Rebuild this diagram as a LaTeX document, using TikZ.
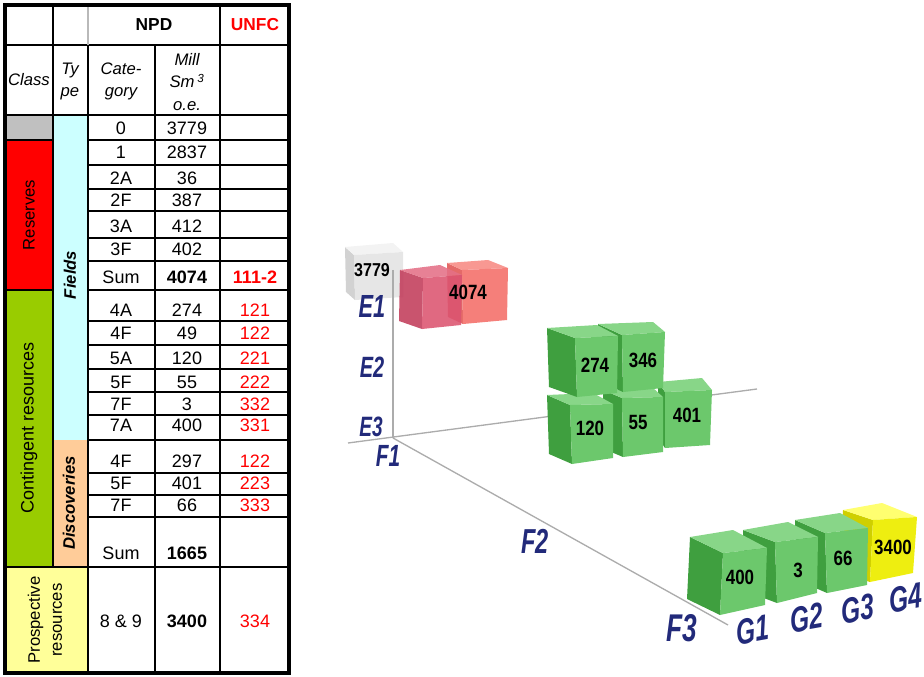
\documentclass[tikz,border=0pt]{standalone}
\usepackage{fontspec}
\setmainfont{Liberation Sans}
\usetikzlibrary{calc}
\definecolor{navy}{HTML}{222A7A}
\definecolor{cellgrey}{HTML}{C0C0C0}
\definecolor{cellred}{HTML}{FF0000}
\definecolor{cellgreen}{HTML}{99CC00}
\definecolor{cellcyan}{HTML}{CCFFFF}
\definecolor{cellpeach}{HTML}{FFCC99}
\definecolor{cellyellow}{HTML}{FFFF99}
\definecolor{unfcred}{HTML}{FF0000}
\definecolor{gfront}{HTML}{6CC86C}
\definecolor{gtop}{HTML}{88D688}
\definecolor{gside}{HTML}{3F9F3F}
\definecolor{yfront}{HTML}{EEEE10}
\definecolor{ytop}{HTML}{FFFF70}
\definecolor{yside}{HTML}{CFCF00}
\definecolor{pfront}{HTML}{DC5470}
\definecolor{ptop}{HTML}{E47086}
\definecolor{pside}{HTML}{C23C5A}
\definecolor{sfront}{HTML}{F57F7A}
\definecolor{stop}{HTML}{F89892}
\definecolor{sside}{HTML}{E46A68}
\definecolor{wfront}{HTML}{E6E6E6}
\definecolor{wtop}{HTML}{F3F3F3}
\definecolor{wside}{HTML}{D2D2D2}
\newcommand\tabfont{\fontsize{13.5}{16}\selectfont}
\newcommand\hdfont{\fontsize{12.5}{15}\selectfont}
\newcommand\axf[1]{\fontsize{#1}{#1}\selectfont\bfseries\itshape}
% cube: front TL, TR, BR, BL, back TL, back TR, colour prefix
\newcommand\cubeq[7]{%
  \fill[fill=#7side] (#1) -- (#5) -- ($(#4)+(#5)-(#1)$) -- (#4) -- cycle;
  \fill[fill=#7top] (#1) -- (#2) -- (#6) -- (#5) -- cycle;
  \fill[fill=#7front] (#1) -- (#2) -- (#3) -- (#4) -- cycle;
}
\begin{document}
\begin{tikzpicture}[x=0.75pt,y=-0.75pt,
  tx/.style={font=\tabfont, inner sep=0pt},
  rtx/.style={tx, text=unfcred},
  grid/.style={line width=1.5pt, black},
  axis/.style={draw=gray!65, line width=1pt},
  axl/.style={text=navy, inner sep=0pt, xscale=0.68},
  cnum/.style={font=\fontsize{15.5}{15.5}\selectfont\bfseries, inner sep=0pt, xscale=0.82}]
\useasboundingbox (0,0) rectangle (924,677);

% ---------------- table fills ----------------
\fill[cellgrey] (5,115) rectangle (53,140);
\fill[cellred] (5,140) rectangle (53,290);
\fill[cellgreen] (5,290) rectangle (53,567);
\fill[cellcyan] (53,115) rectangle (88,440);
\fill[cellpeach] (53,440) rectangle (88,567);
\fill[cellyellow] (5,567) rectangle (88,673);

% ---------------- table lines ----------------
\foreach \yy in {45,115,567} \draw[grid] (5,\yy) -- (289,\yy);
\foreach \yy in {140,165,189,211,238,261,290,321,345,369,392,415,440,473,495,517}
  \draw[grid] (88,\yy) -- (289,\yy);
\foreach \yy in {140,290} \draw[grid] (5,\yy) -- (53,\yy);
\draw[grid] (53,5) -- (53,567);
\draw[line width=1.5pt, gray!55] (88,5) -- (88,45);
\draw[grid] (88,45) -- (88,673);
\draw[grid] (155,45) -- (155,673);
\draw[grid] (220,5) -- (220,673);
\draw[line width=3pt, black] (5,5) rectangle (289,673);

% ---------------- table header ----------------
\node[tx, font=\fontsize{13}{15}\selectfont\bfseries] (npd) at (154,25) {NPD};
\node[tx, font=\fontsize{13}{15}\selectfont\bfseries, text=unfcred] (unfc) at (255,25) {UNFC};
\node[tx, font=\hdfont\itshape] (hclass) at (29,80) {Class};
\node[tx, font=\fontsize{12.5}{16.5}\selectfont\itshape, align=center] (htype) at (70,81) {Ty\\pe};
\node[tx, font=\fontsize{12.5}{16.5}\selectfont\itshape, align=center] (hcat) at (121,81) {Cate-\\gory};
\node[tx, font=\fontsize{12.5}{17}\selectfont\itshape, align=center] (hmill) at (187,82) {Mill\\Sm\,\textsuperscript{3}\\o.e.};

% ---------------- side labels ----------------
\node[tx, rotate=90, font=\hdfont] (lres) at (29,215) {Reserves};
\node[tx, rotate=90, font=\hdfont\bfseries\itshape] (lfields) at (70,275) {Fields};
\node[tx, rotate=90, font=\fontsize{13.5}{16}\selectfont] (lcont) at (29,428) {Contingent resources};
\node[tx, rotate=90, font=\hdfont\bfseries\itshape] (ldisc) at (69,503) {Discoveries};
\node[tx, rotate=90, align=center, font=\fontsize{12.5}{16.5}\selectfont] (lpros) at (45,620) {Prospective\\resources};

% ---------------- table body ----------------
\node[tx] (ca) at (121,128) {0};    \node[tx] (ma) at (187,128) {3779};
\node[tx] (cb) at (121,152) {1};    \node[tx] (mb) at (187,152) {2837};
\node[tx] (cc) at (121,178) {2A};   \node[tx] (mc) at (187,178) {36};
\node[tx] (cd) at (121,200) {2F};   \node[tx] (md) at (187,200) {387};
\node[tx] (ce) at (121,226) {3A};   \node[tx] (me) at (187,226) {412};
\node[tx] (cf) at (121,249) {3F};   \node[tx] (mf) at (187,249) {402};
\node[tx] (cg) at (121,277) {Sum};  \node[tx, font=\tabfont\bfseries] (mg) at (187,277) {4074};
\node[rtx, font=\tabfont\bfseries] (ug) at (255,277) {111-2};
\node[tx] (ch) at (121,310) {4A};   \node[tx] (mh) at (187,310) {274};  \node[rtx] (uh) at (255,310) {121};
\node[tx] (ci) at (121,333) {4F};   \node[tx] (mi) at (187,333) {49};   \node[rtx] (ui) at (255,333) {122};
\node[tx] (cj) at (121,358) {5A};   \node[tx] (mj) at (187,358) {120};  \node[rtx] (uj) at (255,358) {221};
\node[tx] (ck) at (121,382) {5F};   \node[tx] (mk) at (187,382) {55};   \node[rtx] (uk) at (255,382) {222};
\node[tx] (cl) at (121,404) {7F};   \node[tx] (ml) at (187,404) {3};    \node[rtx] (ul) at (255,404) {332};
\node[tx] (cm) at (121,425) {7A};   \node[tx] (mm) at (187,425) {400};  \node[rtx] (um) at (255,425) {331};
\node[tx] (cn) at (121,461) {4F};   \node[tx] (mn) at (187,461) {297};  \node[rtx] (un) at (255,461) {122};
\node[tx] (co) at (121,483) {5F};   \node[tx] (mo) at (187,483) {401};  \node[rtx] (uo) at (255,483) {223};
\node[tx] (cp) at (121,505) {7F};   \node[tx] (mp) at (187,505) {66};   \node[rtx] (up) at (255,505) {333};
\node[tx] (cq) at (121,553) {Sum};  \node[tx, font=\tabfont\bfseries] (mq) at (187,553) {1665};
\node[tx] (cr) at (121,621) {8 \& 9}; \node[tx, font=\tabfont\bfseries] (mr) at (187,621) {3400};
\node[rtx] (ur) at (255,621) {334};

% ---------------- 3D chart ----------------
\cubeq{354,255}{403,252}{403,297}{355,300}{345,247}{393,243}{w}
\coordinate (Etop) at (393,270);
\coordinate (O) at (393,438);
\coordinate (Hl) at (348,443);
\coordinate (Hr) at (757,389);
\coordinate (Fend) at (728,625);
\draw[axis] (Etop) -- (O);
\draw[axis] (Hl) -- (Hr);
\draw[axis] (O) -- (Fend);

\cubeq{462,270}{508,268}{507,320}{463,324}{447,263}{488,260}{s}
\begin{scope}[fill opacity=0.88]
\cubeq{423,278}{462,275}{461,325}{422,329}{400,270}{440,265}{p}
\end{scope}

\cubeq{665,392}{712,390}{710,445}{665,448}{658,382}{702,378}{g}
\cubeq{622,398}{663,397}{663,452}{623,457}{603,390}{653,388}{g}
\cubeq{570,405}{613,404}{613,458}{572,464}{547,395}{593,393}{g}
\cubeq{622,335}{665,332}{663,388}{623,392}{598,324}{653,322}{g}
\cubeq{575,338}{618,336}{617,393}{577,397}{547,328}{597,325}{g}

\cubeq{873,520}{917,517}{913,573}{870,582}{843,510}{882,503}{y}
\cubeq{825,533}{868,528}{867,585}{827,593}{795,520}{840,513}{g}
\cubeq{775,542}{818,537}{817,593}{777,603}{743,530}{788,522}{g}
\cubeq{723,553}{767,548}{765,605}{720,615}{690,537}{733,530}{g}

% numbers on cubes
\node[cnum, font=\fontsize{14}{14}\selectfont\bfseries, xscale=1.05] (n3779) at (372,270) {3779};
\node[cnum] (n4074) at (468,292) {4074};
\node[cnum] (n274) at (595,365) {274};
\node[cnum] (n346) at (643,360) {346};
\node[cnum] (n120) at (590,428) {120};
\node[cnum] (n55) at (638,422) {55};
\node[cnum] (n401) at (687,415) {401};
\node[cnum] (n400) at (740,577) {400};
\node[cnum] (n3) at (798,570) {3};
\node[cnum] (n66) at (843,558) {66};
\node[cnum] (n3400) at (893,547) {3400};

% axis labels
\node[axl, font=\axf{24}] (E1) at (372,306) {E1};
\node[axl, font=\axf{22}] (E2) at (372,367) {E2};
\node[axl, font=\axf{21}] (E3) at (371,427) {E3};
\node[axl, font=\axf{23}] (F1) at (388,456) {F1};
\node[axl, font=\axf{26}] (F2) at (535,541) {F2};
\node[axl, font=\axf{29}] (F3) at (682,628) {F3};
\node[axl, font=\axf{27}, rotate=7] (G1) at (753,630) {G1};
\node[axl, font=\axf{27}, rotate=7] (G2) at (807,618) {G2};
\node[axl, font=\axf{27}, rotate=7] (G3) at (858,609) {G3};
\node[axl, font=\axf{27}, rotate=7] (G4) at (906,598) {G4};
\end{tikzpicture}
\end{document}
